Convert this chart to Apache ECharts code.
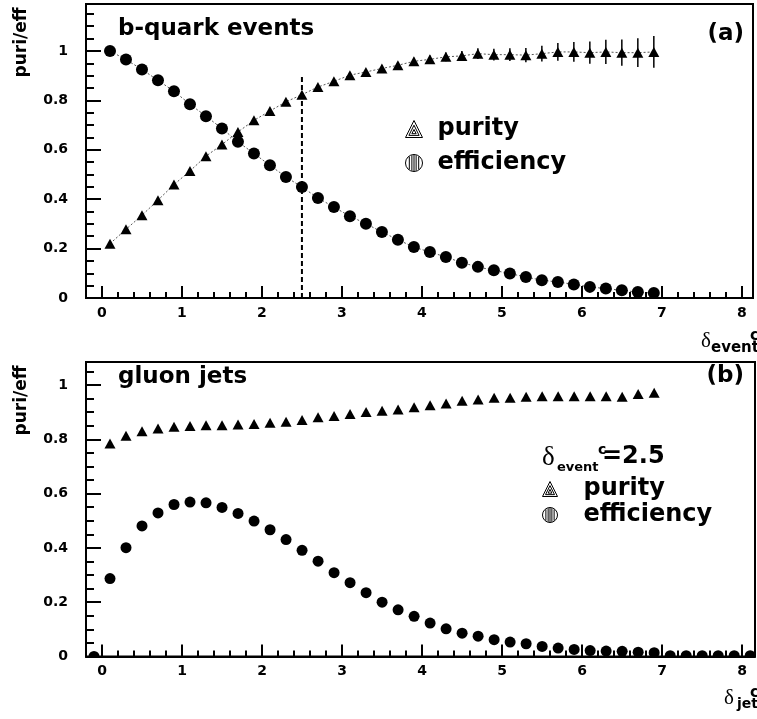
<!DOCTYPE html>
<html><head><meta charset="utf-8">
<script src="https://cdn.jsdelivr.net/npm/echarts@6/dist/echarts.min.js"></script>
<style>html,body{margin:0;padding:0;background:#fff}#c{width:757px;height:719px}</style>
</head><body><div id="c"></div>
<script>
// ---- data: panel (a) b-quark events ----
const xTop = [0.1,0.3,0.5,0.7,0.9,1.1,1.3,1.5,1.7,1.9,2.1,2.3,2.5,2.7,2.9,3.1,3.3,3.5,3.7,3.9,4.1,4.3,4.5,4.7,4.9,5.1,5.3,5.5,5.7,5.9,6.1,6.3,6.5,6.7,6.9];
const effTop = [1.0,0.965,0.925,0.881,0.837,0.784,0.736,0.686,0.632,0.585,0.537,0.490,0.449,0.405,0.368,0.331,0.301,0.267,0.236,0.206,0.186,0.166,0.143,0.126,0.112,0.099,0.085,0.072,0.065,0.055,0.045,0.038,0.031,0.024,0.020];
const purTop = [0.220,0.278,0.335,0.396,0.459,0.514,0.574,0.621,0.672,0.719,0.757,0.794,0.823,0.854,0.877,0.902,0.915,0.929,0.942,0.958,0.966,0.976,0.980,0.989,0.985,0.985,0.983,0.989,0.996,0.996,0.993,0.996,0.993,0.993,0.996];
const purTopErr = [0.004,0.004,0.004,0.005,0.005,0.005,0.005,0.006,0.006,0.006,0.007,0.007,0.008,0.008,0.009,0.010,0.011,0.012,0.013,0.014,0.016,0.018,0.020,0.022,0.024,0.026,0.029,0.032,0.036,0.040,0.045,0.049,0.053,0.058,0.064];
const cutX = 2.5;
const cutTop = 0.9;
// ---- data: panel (b) gluon jets ----
const xBotEff = [-0.1,0.1,0.3,0.5,0.7,0.9,1.1,1.3,1.5,1.7,1.9,2.1,2.3,2.5,2.7,2.9,3.1,3.3,3.5,3.7,3.9,4.1,4.3,4.5,4.7,4.9,5.1,5.3,5.5,5.7,5.9,6.1,6.3,6.5,6.7,6.9,7.1,7.3,7.5,7.7,7.9,8.1];
const effBot = [0.0,0.287,0.401,0.481,0.529,0.560,0.569,0.566,0.549,0.527,0.499,0.467,0.431,0.391,0.351,0.309,0.272,0.235,0.200,0.172,0.148,0.123,0.102,0.086,0.075,0.062,0.053,0.047,0.037,0.031,0.026,0.022,0.020,0.019,0.016,0.014,0.003,0.003,0.003,0.003,0.003,0.003];
const xBotPur = xTop;
const purBot = [0.785,0.813,0.830,0.840,0.846,0.849,0.852,0.852,0.855,0.857,0.861,0.865,0.871,0.881,0.886,0.893,0.901,0.905,0.910,0.918,0.926,0.932,0.942,0.947,0.953,0.953,0.957,0.959,0.959,0.959,0.959,0.959,0.957,0.967,0.972];
// ---- axis ticks ----
const xTicks = [0,1,2,3,4,5,6,7,8];
const yTicks = [0,0.2,0.4,0.6,0.8,1];

const pts = (xs, ys) => xs.map((x, i) => [x, ys[i]]);
const FONT = 'DejaVu Sans';
const BLACK = '#000';

function makeX(gi, max) {
  return {
    type: 'value', gridIndex: gi, min: -0.2, max: max, minInterval: 1, maxInterval: 1, z: 5,
    axisLine: {show: true, onZero: false, lineStyle: {color: BLACK, width: 2}},
    axisTick: {show: true, inside: true, length: 12, customValues: xTicks, lineStyle: {color: BLACK, width: 2}},
    minorTick: {show: true, splitNumber: 5, length: 6, lineStyle: {color: BLACK, width: 2}},
    axisLabel: {customValues: xTicks, margin: 8, fontFamily: FONT, fontWeight: 'bold', fontSize: 14, color: BLACK},
    splitLine: {show: false}, minorSplitLine: {show: false}
  };
}
function makeY(gi, max) {
  return {
    type: 'value', gridIndex: gi, min: 0, max: max, interval: 0.2, z: 5,
    axisLine: {show: true, onZero: false, lineStyle: {color: BLACK, width: 2}},
    axisTick: {show: true, inside: true, length: 15, customValues: yTicks, lineStyle: {color: BLACK, width: 2}},
    minorTick: {show: true, splitNumber: 4, length: 8, lineStyle: {color: BLACK, width: 2}},
    axisLabel: {customValues: yTicks, margin: 18, fontFamily: FONT, fontWeight: 'bold', fontSize: 14, color: BLACK},
    splitLine: {show: false}, minorSplitLine: {show: false}
  };
}

const triIcon = 'path://M0,20L10,0L20,20Z M4,17.5L10,5.5L16,17.5Z M7.5,15.5L10,10.5L12.5,15.5Z';
const circIcon = 'path://M0,10A10,10,0,1,1,20,10A10,10,0,1,1,0,10Z M4.5,2.5L4.5,17.5 M7.5,1L7.5,19 M10,0L10,20 M12.5,1L12.5,19 M15.5,2.5L15.5,17.5';

function txt(x, y, text, font, align, extra) {
  return Object.assign({type: 'text', x: x, y: y, silent: true, z: 6,
    style: {text: text, font: font, fill: BLACK, align: align || 'left', verticalAlign: 'middle'}}, extra || {});
}

const chart = echarts.init(document.getElementById('c'), null, {renderer: 'canvas'});
chart.setOption({
  animation: false,
  backgroundColor: '#fff',
  grid: [
    {left: 86, top: 4, width: 667, height: 294, show: true, borderColor: BLACK, borderWidth: 2, backgroundColor: 'transparent'},
    {left: 86, top: 362, width: 669, height: 294.5, show: true, borderColor: BLACK, borderWidth: 2, backgroundColor: 'transparent'}
  ],
  xAxis: [makeX(0, 8.14), makeX(1, 8.16)],
  yAxis: [makeY(0, 1.19), makeY(1, 1.085)],
  legend: [
    {orient: 'vertical', left: 405, top: 117, padding: 0, itemGap: 10, itemWidth: 17, itemHeight: 17,
     itemStyle: {color: '#fff', borderColor: BLACK, borderWidth: 1},
     textStyle: {fontFamily: FONT, fontWeight: 'bold', fontSize: 24, lineHeight: 24, color: BLACK, padding: [0, 0, 0, 10]},
     data: [{name: 'purity', icon: triIcon}, {name: 'efficiency', icon: circIcon}], selectedMode: false},
    {orient: 'vertical', left: 542, top: 477, padding: 0, itemGap: 2, itemWidth: 15, itemHeight: 15,
     itemStyle: {color: '#fff', borderColor: BLACK, borderWidth: 1},
     textStyle: {fontFamily: FONT, fontWeight: 'bold', fontSize: 24, lineHeight: 20, color: BLACK, padding: [0, 0, 0, 21]},
     data: [{name: 'purity', icon: triIcon}, {name: 'efficiency', icon: circIcon}], selectedMode: false}
  ],
  series: [
    {type: 'line', name: 'cut', xAxisIndex: 0, yAxisIndex: 0, data: [[cutX, 0], [cutX, cutTop]],
     symbol: 'none', silent: true, z: 1, lineStyle: {color: BLACK, width: 2, type: [5, 3]}},
    {type: 'custom', name: 'purity error', xAxisIndex: 0, yAxisIndex: 0, z: 2, silent: true,
     data: xTop.map((x, i) => [x, purTop[i], purTopErr[i]]),
     encode: {x: 0, y: 1},
     renderItem: function (params, api) {
       const x = api.value(0), y = api.value(1), e = api.value(2);
       const p1 = api.coord([x, y - e]), p2 = api.coord([x, y + e]);
       return {type: 'line', shape: {x1: p1[0], y1: p1[1], x2: p2[0], y2: p2[1]}, style: {stroke: BLACK, lineWidth: 1.5}};
     }},
    {type: 'line', name: 'purity', xAxisIndex: 0, yAxisIndex: 0, data: pts(xTop, purTop), z: 3,
     symbol: 'triangle', symbolSize: [11, 10], showSymbol: true, showAllSymbol: true,
     itemStyle: {color: BLACK, opacity: 1}, lineStyle: {color: '#555', width: 1, type: [2, 2]}},
    {type: 'line', name: 'efficiency', xAxisIndex: 0, yAxisIndex: 0, data: pts(xTop, effTop), z: 3,
     symbol: 'circle', symbolSize: 12, showSymbol: true, showAllSymbol: true,
     itemStyle: {color: BLACK, opacity: 1}, lineStyle: {color: '#555', width: 1, type: [2, 2]}},
    {type: 'scatter', name: 'purity', xAxisIndex: 1, yAxisIndex: 1, data: pts(xBotPur, purBot), z: 3,
     symbol: 'triangle', symbolSize: [11, 10], itemStyle: {color: BLACK, opacity: 1}},
    {type: 'scatter', name: 'efficiency', xAxisIndex: 1, yAxisIndex: 1, data: pts(xBotEff, effBot), z: 3,
     symbol: 'circle', symbolSize: 11, itemStyle: {color: BLACK, opacity: 1}}
  ],
  graphic: [
    {type: 'rect', shape: {x: 87, y: 299, width: 668, height: 6}, style: {fill: '#fff'}, z: 4, silent: true},
    {type: 'rect', shape: {x: 87, y: 657.5, width: 670, height: 6}, style: {fill: '#fff'}, z: 4, silent: true},
    txt(118, 29, 'b-quark events', 'bold 23px "DejaVu Sans"'),
    txt(744, 34, '(a)', 'bold 23px "DejaVu Sans"', 'right'),
    txt(118, 377, 'gluon jets', 'bold 23px "DejaVu Sans"'),
    txt(744, 376, '(b)', 'bold 23px "DejaVu Sans"', 'right'),
    txt(21.5, 42.5, 'puri/eff', 'bold 17px "DejaVu Sans"', 'center', {rotation: Math.PI / 2}),
    txt(21.5, 400.5, 'puri/eff', 'bold 17px "DejaVu Sans"', 'center', {rotation: Math.PI / 2}),
    // x-axis titles
    txt(701, 341, 'δ', '21px "Liberation Serif"'),
    txt(711, 348, 'event', 'bold 15px "DejaVu Sans"'),
    txt(750, 336, 'c', 'bold 15px "DejaVu Sans"'),
    txt(724, 698, 'δ', '21px "Liberation Serif"'),
    txt(737, 704, 'jet', 'bold 14px "DejaVu Sans"'),
    txt(750, 693, 'c', 'bold 15px "DejaVu Sans"'),
    // legend header panel (b)
    txt(542, 458, 'δ', '27px "Liberation Serif"'),
    txt(557, 468, 'event', 'bold 13px "DejaVu Sans"'),
    txt(598, 450, 'c', 'bold 14px "DejaVu Sans"'),
    txt(602, 457, '=2.5', 'bold 24px "DejaVu Sans"')
  ]
});
</script>
</body></html>
